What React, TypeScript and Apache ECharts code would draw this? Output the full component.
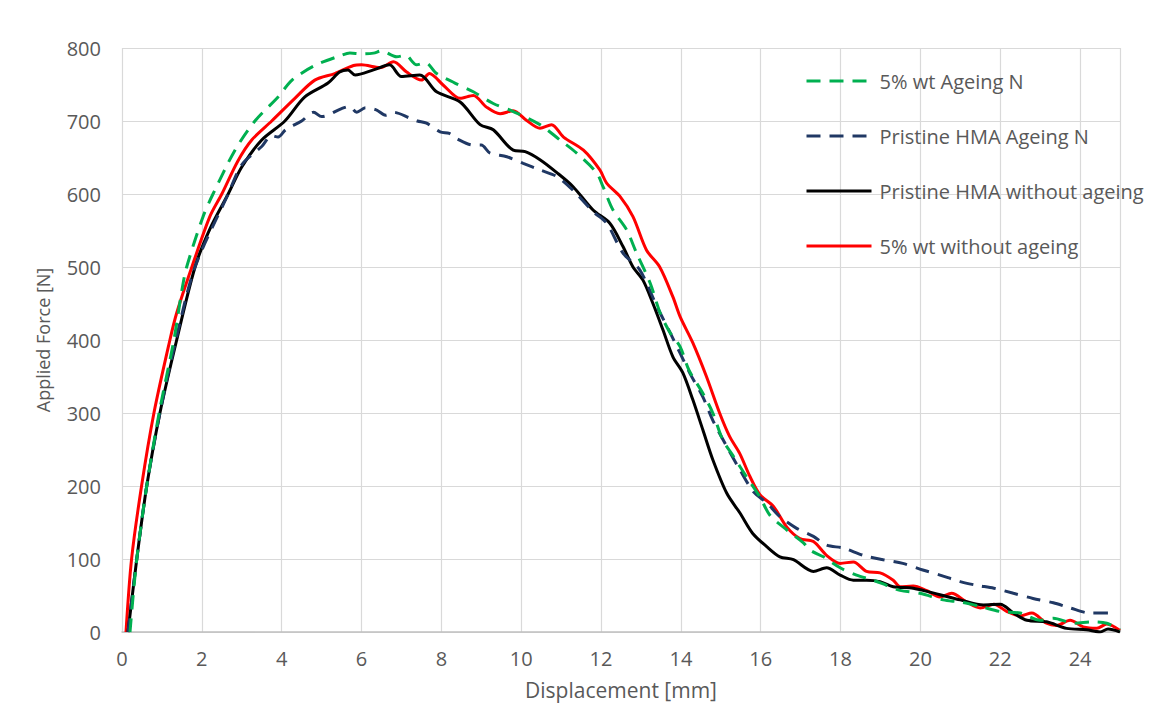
import React, { useEffect, useRef } from "react";
import * as echarts from "echarts";

const seriesNames = [
  "5% wt Ageing N",
  "Pristine HMA Ageing N",
  "Pristine HMA without ageing",
  "5% wt without ageing",
];

// [displacement mm, force N]
const ageing5Wt: number[][] = [
  [0.2, 0], [0.37, 100], [0.62, 200], [0.93, 300], [1.3, 400], [1.5, 468], [1.62, 500],
  [2.03, 569], [2.28, 600], [2.83, 660], [3.33, 700], [3.91, 733], [4.26, 756], [4.83, 776],
  [5.5, 790], [5.71, 793], [6.0, 792], [6.3, 793], [6.5, 796], [6.88, 788], [7.1, 790],
  [7.38, 777], [7.6, 780], [7.88, 765], [8.34, 752], [8.8, 740], [9.3, 724], [9.8, 713],
  [10.47, 695], [10.97, 674], [11.39, 656], [11.89, 629], [12.05, 610], [12.3, 578],
  [12.64, 551], [12.89, 519], [13.23, 478], [13.48, 437], [13.73, 410], [13.98, 391],
  [14.2, 359], [14.55, 327], [14.8, 300], [15.05, 263], [15.3, 242], [15.65, 212],
  [15.98, 185], [16.23, 160], [16.65, 140], [17.07, 122], [17.24, 112], [17.57, 103],
  [17.99, 88], [18.4, 78], [18.82, 71], [19.15, 64], [19.49, 57], [19.99, 53], [20.57, 44],
  [21.0, 41], [21.5, 35], [22.0, 28], [22.5, 26], [23.0, 16], [23.33, 19], [23.83, 12],
  [24.33, 14], [24.67, 12], [25, 3],
];

const pristineAgeing: number[][] = [
  [0.15, 0], [0.37, 100], [0.62, 200], [0.95, 300], [1.35, 400], [1.83, 500], [2.66, 600],
  [3.0, 640], [3.5, 665], [3.75, 680], [3.91, 678], [4.1, 688], [4.5, 700], [4.8, 712],
  [5.0, 706], [5.5, 717], [5.7, 720], [5.88, 712], [6.1, 718], [6.38, 715], [6.6, 708],
  [6.8, 712], [7.21, 704], [7.4, 700], [7.63, 697], [7.97, 685], [8.2, 683], [8.38, 676],
  [8.8, 667], [9.0, 667], [9.22, 656], [9.64, 651], [10.05, 642], [10.47, 633], [10.89, 624],
  [11.3, 605], [11.8, 576], [12.14, 560], [12.55, 519], [12.97, 496], [13.4, 446],
  [13.73, 410], [13.98, 382], [14.22, 355], [14.55, 322], [14.8, 290], [15.15, 254],
  [15.48, 222], [15.82, 192], [16.15, 177], [16.48, 158], [16.9, 142], [17.32, 131],
  [17.65, 119], [18.07, 115], [18.57, 105], [19.07, 99], [19.56, 94], [20.06, 85],
  [20.49, 78], [21.0, 69], [21.41, 64], [21.84, 60], [22.33, 53], [22.82, 46], [23.33, 40],
  [23.75, 33], [24.25, 26], [24.83, 26],
];

const pristineNoAgeing: number[][] = [
  [0.15, 0], [0.37, 100], [0.62, 200], [0.95, 300], [1.37, 400], [1.83, 500], [2.2, 552],
  [2.66, 600], [3.0, 637], [3.5, 674], [4.08, 700], [4.58, 733], [5.16, 752], [5.45, 767],
  [5.66, 770], [5.84, 763], [6.3, 770], [6.7, 777], [7.0, 761], [7.46, 763], [7.88, 740],
  [8.47, 726], [8.97, 695], [9.3, 688], [9.8, 660], [10.1, 658], [10.47, 647], [10.9, 629],
  [11.3, 610], [11.8, 578], [12.22, 560], [12.55, 528], [12.8, 500], [13.05, 482],
  [13.3, 450], [13.55, 414], [13.8, 377], [14.05, 355], [14.3, 318], [14.55, 277],
  [14.8, 236], [15.15, 190], [15.48, 163], [15.8, 135], [16.15, 117], [16.48, 103],
  [16.82, 99], [17.32, 83], [17.65, 88], [17.99, 78], [18.32, 71], [18.65, 71], [18.99, 69],
  [19.32, 62], [19.82, 60], [20.49, 51], [21.0, 44], [21.58, 37], [22.0, 38], [22.33, 26],
  [22.67, 16], [23.16, 14], [23.66, 5], [24.16, 3], [24.5, 0], [24.7, 4], [25, 0],
];

const wt5NoAgeing: number[][] = [
  [0.1, 0], [0.24, 100], [0.49, 200], [0.8, 300], [1.2, 400], [1.37, 437], [1.75, 500],
  [2.2, 569], [2.5, 600], [2.9, 645], [3.25, 674], [3.75, 700], [4.33, 731], [4.83, 756],
  [5.33, 765], [5.8, 776], [6.0, 777], [6.46, 773], [6.8, 781], [7.13, 767], [7.5, 756],
  [7.7, 765], [8.05, 749], [8.47, 731], [8.8, 735], [9.13, 719], [9.47, 710], [9.8, 714],
  [10.13, 701], [10.47, 690], [10.76, 695], [11.06, 678], [11.56, 660], [11.97, 633],
  [12.14, 615], [12.47, 597], [12.8, 569], [13.14, 523], [13.47, 500], [13.8, 459],
  [13.98, 432], [14.3, 396], [14.64, 350], [14.97, 300], [15.22, 268], [15.47, 245],
  [15.73, 213], [15.98, 188], [16.32, 172], [16.65, 144], [16.98, 128], [17.32, 124],
  [17.65, 105], [17.99, 94], [18.32, 96], [18.65, 83], [18.99, 81], [19.32, 71], [19.49, 62],
  [19.82, 63], [20.15, 57], [20.49, 48], [20.78, 53], [21.16, 41], [21.5, 33], [21.84, 38],
  [22.17, 28], [22.5, 22], [22.79, 26], [23.16, 12], [23.41, 9], [23.75, 16], [24.08, 7],
  [24.42, 5], [24.67, 11], [25, 2],
];

const seriesColors = ["#00b050", "#203864", "#000000", "#ff0000"];
const seriesDashed = [true, true, false, false];
const seriesData = [ageing5Wt, pristineAgeing, pristineNoAgeing, wt5NoAgeing];

const FONT = "'Open Sans', sans-serif";
const TXT = "#595959";

export default function App() {
  const ref = useRef<HTMLDivElement>(null);
  useEffect(() => {
    if (!ref.current) return;
    const chart = echarts.init(ref.current, undefined, { renderer: "svg" });
    chart.setOption({
      animation: false,
      backgroundColor: "#ffffff",
      textStyle: { fontFamily: FONT, color: TXT },
      grid: { left: 122, right: 31, top: 48, bottom: 74, containLabel: false },
      legend: {
        orient: "vertical",
        left: 800,
        top: 65,
        itemWidth: 65,
        itemHeight: 14,
        itemGap: 33,
        data: seriesNames,
        itemStyle: { opacity: 0 },
        lineStyle: { width: 3 },
        textStyle: { fontFamily: FONT, fontSize: 20, color: TXT, lineHeight: 22, padding: [0, 0, 0, 3] },
      },
      xAxis: {
        type: "value",
        min: 0,
        max: 25,
        interval: 2,
        name: "Displacement [mm]",
        nameLocation: "middle",
        nameGap: 47,
        nameTextStyle: { fontFamily: FONT, fontSize: 21, color: TXT },
        axisLine: { show: true, lineStyle: { color: "#bfbfbf", width: 1.5 } },
        axisTick: { show: false },
        axisLabel: {
          fontFamily: FONT,
          fontSize: 20,
          color: TXT,
          margin: 16,
          formatter: (v: number) => (v === 25 ? "" : String(v)),
        },
        splitLine: { show: true, lineStyle: { color: "#d9d9d9", width: 1.2 } },
      },
      yAxis: {
        type: "value",
        min: 0,
        max: 800,
        interval: 100,
        name: "Applied Force [N]",
        nameLocation: "middle",
        nameGap: 70,
        nameTextStyle: { fontFamily: FONT, fontSize: 18, color: TXT },
        axisLine: { show: false },
        axisTick: { show: false },
        axisLabel: { fontFamily: FONT, fontSize: 20, color: TXT, margin: 21 },
        splitLine: { show: true, lineStyle: { color: "#d9d9d9", width: 1.2 } },
      },
      series: seriesNames.map((name, i) => ({
        name,
        type: "line",
        data: seriesData[i],
        symbol: "none",
        smooth: 0.3,
        z: 10 - i,
        lineStyle: {
          color: seriesColors[i],
          width: 3,
          type: seriesDashed[i] ? [14, 9] : "solid",
        },
        itemStyle: { color: seriesColors[i] },
      })),
    });
    return () => chart.dispose();
  }, []);
  return <div ref={ref} style={{ width: 1151, height: 706, position: "absolute", left: 0, top: 0 }} />;
}
